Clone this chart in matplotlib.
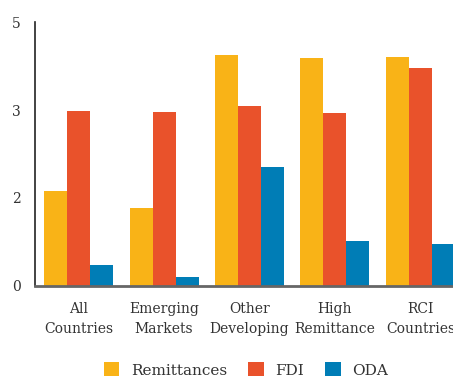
import matplotlib
matplotlib.use("Agg")
import matplotlib.pyplot as plt
import numpy as np
from matplotlib.ticker import FixedLocator, FuncFormatter

categories = ["All\nCountries", "Emerging\nMarkets", "Other\nDeveloping",
              "High\nRemittance", "RCI\nCountries"]
remittances = [1.80, 1.47, 4.38, 4.32, 4.34]
fdi = [3.32, 3.30, 3.41, 3.28, 4.13]
oda = [0.39, 0.165, 2.25, 0.85, 0.79]
series_names = ["Remittances", "FDI", "ODA"]
colors = ["#F9B317", "#E9522B", "#007DB6"]

text_color = "#333333"
plt.rcParams["font.family"] = ["DejaVu Serif"]

fig = plt.figure(figsize=(4.53, 3.81), dpi=100)
ax = fig.add_axes([35 / 453, 0.2501, 429 / 453, 0.6913])

x = np.arange(len(categories))
w = 0.269
for i, (vals, name, c) in enumerate(zip([remittances, fdi, oda], series_names, colors)):
    ax.bar(x + (i - 1) * w, vals, width=w, color=c, label=name, linewidth=0)

ax.set_xlim(-0.509, len(categories) - 1 + 0.509)
ax.set_ylim(0, 5)
ax.yaxis.set_major_locator(FixedLocator([0, 5 / 3, 10 / 3, 5]))
ax.yaxis.set_major_formatter(FuncFormatter(lambda v, p: f"{v:.0f}"))
ax.set_xticks(x)
ax.set_xticklabels(categories, fontsize=10, color=text_color, linespacing=1.55)
ax.tick_params(axis="both", length=0, labelcolor=text_color)
ax.tick_params(axis="y", pad=10, labelsize=10)
ax.tick_params(axis="x", pad=12)

for s in ["top", "right"]:
    ax.spines[s].set_visible(False)
ax.spines["left"].set_color("#222222")
ax.spines["left"].set_linewidth(1.2)
ax.spines["bottom"].set_color("#666666")
ax.spines["bottom"].set_linewidth(2)

fig.legend(loc="center", bbox_to_anchor=(246 / 453, 1 - 370 / 381), ncol=3,
           frameon=False, fontsize=11, handlelength=1.0, handleheight=1.0,
           handletextpad=0.75, columnspacing=1.4, labelcolor=text_color)

fig.savefig("out.png", dpi=100)
